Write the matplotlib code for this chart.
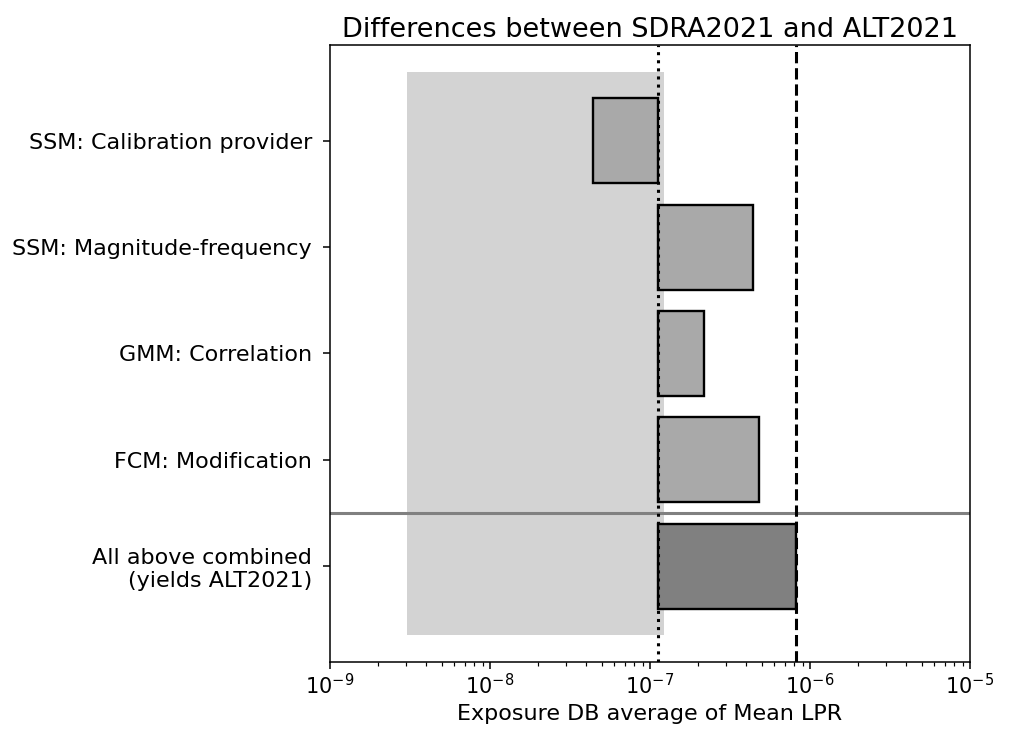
import numpy as np
from matplotlib import pyplot as plt
plt.rcParams.update({'font.size': 14,
                     'axes.linewidth': 1.1,
                     'xtick.major.size': 4.9, 'ytick.major.size': 4.9,
                     'xtick.minor.size': 2.8,
                     'xtick.major.width': 1.1, 'ytick.major.width': 1.1,
                     'xtick.minor.width': 0.85})

labels = ['SSM: Calibration provider', 'SSM: Magnitude-frequency', 'GMM: Correlation',
          'FCM: Modification', 'All above combined\n(yields ALT2021)']
# mean LPR of each alternative model, reference is SDRA2021
lpr_sdra2021 = 1.12e-7
lpr_alt2021 = 8.15e-7
lpr_variants = [4.4e-8, 4.4e-7, 2.18e-7, 4.78e-7, 8.15e-7]
# spread of the SDRA2021 logic tree branches
branch_min = 3.03e-9
branch_max = 1.22e-7

fig, ax = plt.subplots(figsize=(10.11, 7.33), dpi=100)
plt.subplots_adjust(left=0.3264, right=0.9594, top=0.9386, bottom=0.0972)

y = np.arange(len(labels))
ax.fill_betweenx([-0.65, 4.65], branch_min, branch_max, color='lightgray', lw=0, zorder=0)

widths = [v - lpr_sdra2021 for v in lpr_variants]
colors = ['darkgray'] * 4 + ['gray']
ax.barh(y, widths, left=lpr_sdra2021, height=0.8, color=colors, edgecolor='k', lw=1.7, zorder=2)

ax.axvline(lpr_sdra2021, color='k', ls=':', lw=2.2, zorder=3)
ax.axvline(lpr_alt2021, color='k', ls='--', lw=2.2, zorder=3)
ax.axhline(3.5, color='gray', lw=2.2, zorder=1)

ax.set_xscale('log')
ax.set_xlim(1e-9, 1e-5)
ax.set_ylim(4.9, -0.9)
ax.set_yticks(y)
ax.set_yticklabels(labels, fontsize=16)
ax.tick_params(axis='y', pad=8)
ax.tick_params(axis='x', labelsize=15)
ax.set_xlabel('Exposure DB average of Mean LPR', fontsize=16)
ax.set_title('Differences between SDRA2021 and ALT2021', fontsize=19.5)

plt.savefig('out.png', dpi=100)
